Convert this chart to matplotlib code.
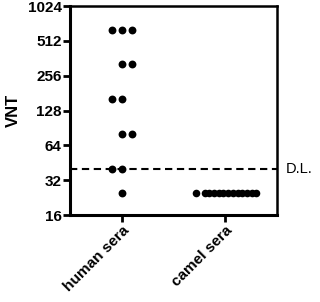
import matplotlib
matplotlib.use("Agg")
import matplotlib.pyplot as plt
import numpy as np

plt.rcParams['font.family'] = ['Liberation Sans', 'DejaVu Sans']

categories = ["human sera", "camel sera"]
human_values = [640, 640, 640, 320, 320, 160, 160, 80, 80, 40, 40, 25]
camel_values = [25] * 13
detection_limit = 40
y_ticks = [16, 32, 64, 128, 256, 512, 1024]

# horizontal scatter offsets (layout only)
h_off = [-0.097, 0.0, 0.097, 0.0, 0.097, -0.097, 0.0, 0.0, 0.097, -0.097, 0.0, 0.0]
c_off = list(np.concatenate([[-0.28], np.linspace(-0.20, 0.30, 12)]))

fig = plt.figure(figsize=(3.2, 3.02), dpi=100)
ax = fig.add_axes([0.219, 0.288, 0.647, 0.692])

ax.scatter([0 + o for o in h_off], human_values, s=32, color='black', zorder=3, linewidths=0)
ax.scatter([1 + o for o in c_off], camel_values, s=30, color='black', zorder=3, linewidths=0)

ax.axhline(detection_limit, color='black', linestyle=(0, (3.5, 2.2)), linewidth=1.5, zorder=2)
ax.text(1.58, detection_limit, "D.L.", fontsize=10.5, va='center', ha='left')

ax.set_yscale('log', base=2)
ax.set_ylim(16, 1024)
ax.set_yticks(y_ticks)
ax.set_yticklabels([str(t) for t in y_ticks], fontsize=11, fontweight='bold')
ax.minorticks_off()
ax.set_xlim(-0.5, 1.5)
ax.set_xticks([0, 1])
ax.set_xticklabels(categories, rotation=45, ha='right', rotation_mode='anchor',
                   fontsize=11, fontweight='bold')
ax.set_ylabel("VNT", fontsize=12, fontweight='bold', labelpad=5)

for s in ['left', 'bottom']:
    ax.spines[s].set_linewidth(2.2)
for s in ['top', 'right']:
    ax.spines[s].set_linewidth(1.8)
ax.tick_params(axis='both', width=2, length=5, pad=1)

fig.savefig("out.png", dpi=100)
